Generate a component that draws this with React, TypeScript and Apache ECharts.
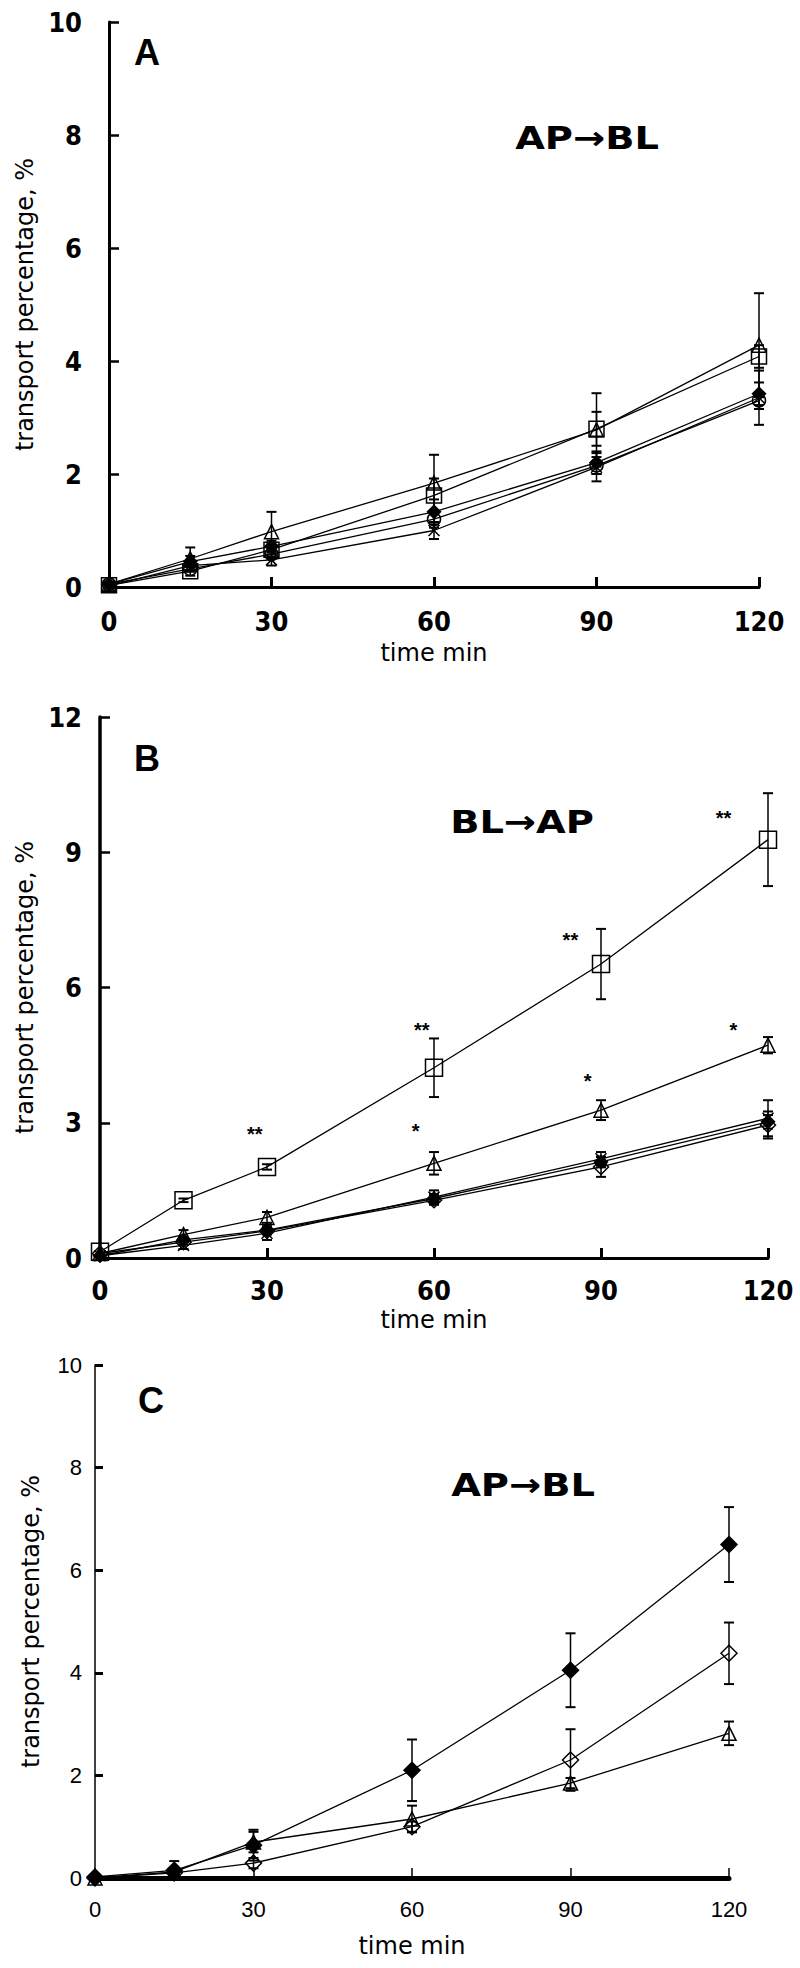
import React, { useEffect, useRef } from "react";
import * as echarts from "echarts";

// ---------- data ----------
const timePoints = [0, 15, 30, 60, 90, 120];

// Panel A (AP -> BL)
const aTriangle = [0.05, 0.5, 0.98, 1.84, 2.78, 4.28];
const aTriangleErr = [0, 0.2, 0.35, 0.5, 0.65, 0.92];
const aSquare = [0.03, 0.28, 0.66, 1.62, 2.8, 4.08];
const aSquareErr = [0, 0.08, 0.12, 0.3, 0.3, 0.2];
const aFilledDiamond = [0.05, 0.45, 0.72, 1.33, 2.2, 3.42];
const aFilledDiamondErr = [0, 0.1, 0.1, 0.22, 0.2, 0.2];
const aCross = [0.02, 0.38, 0.48, 1.0, 2.12, 3.35];
const aCrossErr = [0, 0.1, 0.1, 0.15, 0.25, 0.48];
const aOpenCircle = [0.05, 0.32, 0.58, 1.2, 2.15, 3.3];
const aOpenCircleErr = [0, 0.05, 0.08, 0.15, 0.15, 0.15];

// Panel B (BL -> AP)
const bSquare = [0.14, 1.28, 2.02, 4.22, 6.52, 9.28];
const bSquareErr = [0, 0.04, 0.06, 0.65, 0.78, 1.03];
const bTriangle = [0.1, 0.52, 0.9, 2.1, 3.28, 4.72];
const bTriangleErr = [0, 0.1, 0.12, 0.25, 0.22, 0.18];
const bFilledDiamond = [0.05, 0.4, 0.62, 1.32, 2.13, 3.02];
const bFilledDiamondErr = [0, 0.05, 0.08, 0.1, 0.12, 0.15];
const bCross = [0.05, 0.28, 0.55, 1.35, 2.2, 3.1];
const bCrossErr = [0, 0.08, 0.15, 0.15, 0.15, 0.4];
const bOpenDiamond = [0.1, 0.35, 0.6, 1.28, 2.02, 2.95];
const bOpenDiamondErr = [0, 0.05, 0.08, 0.1, 0.22, 0.3];

// significance marks in panel B
const starX = [27.8, 57.8, 84.5, 112, 56.7, 87.6, 113.8];
const starY = [2.76, 5.05, 7.05, 9.75, 2.81, 3.93, 5.05];
const starText = ["**", "**", "**", "**", "*", "*", "*"];

// Panel C (AP -> BL)
const cFilledDiamond = [0.02, 0.15, 0.64, 2.1, 4.05, 6.5];
const cFilledDiamondErr = [0, 0.18, 0.3, 0.6, 0.72, 0.73];
const cOpenDiamond = [0.0, 0.1, 0.29, 1.0, 2.3, 4.38];
const cOpenDiamondErr = [0, 0.05, 0.1, 0.1, 0.6, 0.6];
const cTriangle = [0.0, 0.12, 0.7, 1.15, 1.85, 2.82];
const cTriangleErr = [0, 0.05, 0.2, 0.26, 0.1, 0.23];

const xTickLabels = ["0", "30", "60", "90", "120"];

// ---------- helpers ----------
const CROSS = "path://M0,0L10,10M10,0L0,10";

type Def = { values: number[]; err: number[]; symbol: string; filled: boolean; size: number };

const panelA: Def[] = [
  { values: aTriangle, err: aTriangleErr, symbol: "triangle", filled: false, size: 14 },
  { values: aSquare, err: aSquareErr, symbol: "rect", filled: false, size: 15 },
  { values: aFilledDiamond, err: aFilledDiamondErr, symbol: "diamond", filled: true, size: 13 },
  { values: aCross, err: aCrossErr, symbol: CROSS, filled: false, size: 11 },
  { values: aOpenCircle, err: aOpenCircleErr, symbol: "circle", filled: false, size: 13 },
];
const panelB: Def[] = [
  { values: bSquare, err: bSquareErr, symbol: "rect", filled: false, size: 17 },
  { values: bTriangle, err: bTriangleErr, symbol: "triangle", filled: false, size: 14 },
  { values: bFilledDiamond, err: bFilledDiamondErr, symbol: "diamond", filled: true, size: 13 },
  { values: bCross, err: bCrossErr, symbol: CROSS, filled: false, size: 11 },
  { values: bOpenDiamond, err: bOpenDiamondErr, symbol: "diamond", filled: false, size: 15 },
];
const panelC: Def[] = [
  { values: cFilledDiamond, err: cFilledDiamondErr, symbol: "diamond", filled: true, size: 16 },
  { values: cOpenDiamond, err: cOpenDiamondErr, symbol: "diamond", filled: false, size: 16 },
  { values: cTriangle, err: cTriangleErr, symbol: "triangle", filled: false, size: 14 },
];

function buildSeries(idx: number, defs: Def[]) {
  const out: any[] = [];
  defs.forEach((d) => {
    out.push({
      type: "custom",
      xAxisIndex: idx,
      yAxisIndex: idx,
      z: 1,
      silent: true,
      renderItem: (params: any, api: any) => {
        const x = api.value(0);
        const lo = api.coord([x, api.value(1)]);
        const hi = api.coord([x, api.value(2)]);
        const w = 5;
        return {
          type: "group",
          children: [
            { type: "line", shape: { x1: lo[0], y1: lo[1], x2: hi[0], y2: hi[1] }, style: { stroke: "#000", lineWidth: 1.5 } },
            { type: "line", shape: { x1: hi[0] - w, y1: hi[1], x2: hi[0] + w, y2: hi[1] }, style: { stroke: "#000", lineWidth: 2 } },
            { type: "line", shape: { x1: lo[0] - w, y1: lo[1], x2: lo[0] + w, y2: lo[1] }, style: { stroke: "#000", lineWidth: 2 } },
          ],
        };
      },
      data: timePoints
        .map((t, i) => [t, d.values[i] - d.err[i], d.values[i] + d.err[i]])
        .filter((_, i) => d.err[i] > 0),
    });
    out.push({
      type: "line",
      xAxisIndex: idx,
      yAxisIndex: idx,
      z: 3,
      symbol: d.symbol,
      symbolSize: d.size,
      showAllSymbol: true,
      lineStyle: { color: "#000", width: 1.3 },
      itemStyle: {
        color: d.filled ? "#000" : "rgba(0,0,0,0)",
        borderColor: "#000",
        borderWidth: 1.5,
      },
      data: timePoints.map((t, i) => [t, d.values[i]]),
    });
  });
  return out;
}

const BOLD_NARROW = "'Liberation Sans Narrow', 'Arial Narrow', 'DejaVu Sans Condensed', sans-serif";
const NAME_FONT = "'DejaVu Sans', Verdana, sans-serif";

function xAxisCfg(idx: number, opts: any) {
  return {
    gridIndex: idx,
    type: "value",
    min: 0,
    max: 120,
    interval: 30,
    splitLine: { show: false },
    axisLine: { show: true, onZero: false, lineStyle: { color: "#000", width: opts.lineWidth } },
    axisTick: { show: true, inside: true, length: 10, lineStyle: { color: "#000", width: opts.tickWidth } },
    axisLabel: {
      margin: opts.labelMargin,
      color: "#000",
      fontSize: opts.fontSize,
      fontWeight: opts.bold ? "bold" : "normal",
      fontFamily: opts.bold ? BOLD_NARROW : "'Liberation Sans', Arial, sans-serif",
      formatter: (v: number) => xTickLabels[Math.round(v / 30)] ?? String(v),
    },
    name: "time min",
    nameLocation: "middle",
    nameGap: opts.nameGap,
    nameTextStyle: { color: "#000", fontSize: 24, fontFamily: NAME_FONT },
  };
}

function yAxisCfg(idx: number, max: number, interval: number, opts: any) {
  return {
    gridIndex: idx,
    type: "value",
    min: 0,
    max,
    interval,
    splitLine: { show: false },
    axisLine: { show: true, onZero: false, lineStyle: { color: "#000", width: opts.lineWidth } },
    axisTick: { show: true, inside: true, length: opts.tickLength, lineStyle: { color: "#000", width: opts.tickWidth } },
    axisLabel: {
      margin: opts.labelMargin,
      color: "#000",
      fontSize: opts.fontSize,
      fontWeight: opts.bold ? "bold" : "normal",
      fontFamily: opts.bold ? BOLD_NARROW : "'Liberation Sans', Arial, sans-serif",
    },
    name: "transport percentage, %",
    nameLocation: "middle",
    nameGap: opts.nameGap,
    nameTextStyle: { color: "#000", fontSize: 24, fontFamily: NAME_FONT },
  };
}

const LETTER_FONT = "bold 36px 'Liberation Sans', Arial, sans-serif";
const DIR_FONT = "bold 32px 'DejaVu Sans', Verdana, sans-serif";

export default function App() {
  const ref = useRef<HTMLDivElement>(null);

  useEffect(() => {
    if (!ref.current) return;
    const chart = echarts.init(ref.current, undefined, { renderer: "svg" });

    const series: any[] = [
      ...buildSeries(0, panelA),
      ...buildSeries(1, panelB),
      ...buildSeries(2, panelC),
      {
        type: "custom",
        xAxisIndex: 1,
        yAxisIndex: 1,
        z: 4,
        silent: true,
        renderItem: (params: any, api: any) => {
          const p = api.coord([api.value(0), api.value(1)]);
          return {
            type: "text",
            x: p[0],
            y: p[1],
            style: {
              text: starText[params.dataIndex],
              font: "bold 20px 'Liberation Sans', Arial, sans-serif",
              fill: "#000",
              textAlign: "center",
              textVerticalAlign: "middle",
            },
          };
        },
        data: starX.map((x, i) => [x, starY[i]]),
      },
    ];

    const option: any = {
      animation: false,
      backgroundColor: "#fff",
      grid: [
        { left: 109, right: 41, top: 22, height: 565 },
        { left: 100, right: 32, top: 717, height: 541 },
        { left: 95, right: 71, top: 1365, height: 513 },
      ],
      xAxis: [
        xAxisCfg(0, { lineWidth: 3, tickWidth: 3, labelMargin: 21, fontSize: 27, bold: true, nameGap: 54 }),
        xAxisCfg(1, { lineWidth: 3, tickWidth: 3, labelMargin: 19, fontSize: 27, bold: true, nameGap: 50 }),
        xAxisCfg(2, { lineWidth: 5, tickWidth: 1.5, labelMargin: 20, fontSize: 22, bold: false, nameGap: 56 }),
      ],
      yAxis: [
        yAxisCfg(0, 10, 2, { lineWidth: 3, tickWidth: 2.5, tickLength: 10, labelMargin: 27, fontSize: 27, bold: true, nameGap: 62 }),
        yAxisCfg(1, 12, 3, { lineWidth: 3.5, tickWidth: 2.5, tickLength: 10, labelMargin: 18, fontSize: 27, bold: true, nameGap: 54 }),
        yAxisCfg(2, 10, 2, { lineWidth: 1.5, tickWidth: 3, tickLength: 8, labelMargin: 13, fontSize: 22, bold: false, nameGap: 52 }),
      ],
      graphic: [
        { type: "text", x: 147, y: 52, style: { text: "A", font: LETTER_FONT, fill: "#000", textAlign: "center", textVerticalAlign: "middle" } },
        { type: "text", x: 587, y: 138, scaleX: 1.2, style: { text: "AP\u2192BL", font: DIR_FONT, fill: "#000", textAlign: "center", textVerticalAlign: "middle" } },
        { type: "text", x: 147, y: 758, style: { text: "B", font: LETTER_FONT, fill: "#000", textAlign: "center", textVerticalAlign: "middle" } },
        { type: "text", x: 522, y: 822, scaleX: 1.2, style: { text: "BL\u2192AP", font: DIR_FONT, fill: "#000", textAlign: "center", textVerticalAlign: "middle" } },
        { type: "text", x: 151, y: 1400, style: { text: "C", font: LETTER_FONT, fill: "#000", textAlign: "center", textVerticalAlign: "middle" } },
        { type: "text", x: 523, y: 1485, scaleX: 1.2, style: { text: "AP\u2192BL", font: DIR_FONT, fill: "#000", textAlign: "center", textVerticalAlign: "middle" } },
      ],
      series,
    };

    chart.setOption(option);
    return () => chart.dispose();
  }, []);

  return (
    <div
      ref={ref}
      style={{ position: "absolute", left: 0, top: 0, width: 800, height: 1968, background: "#fff" }}
    />
  );
}
